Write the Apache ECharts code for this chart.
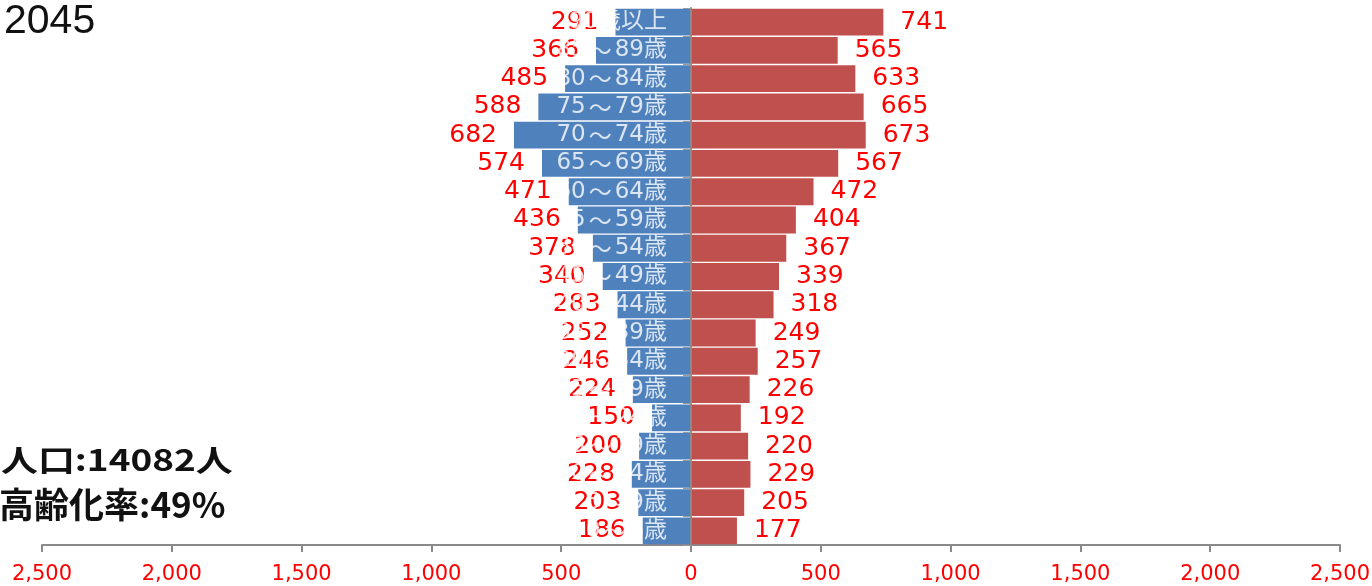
<!DOCTYPE html>
<html>
<head>
<meta charset="utf-8">
<script src="https://cdn.jsdelivr.net/npm/echarts@6/dist/echarts.min.js"></script>
<style>
  html, body { margin: 0; padding: 0; background: #ffffff; }
  #chart { width: 1372px; height: 586px; }
</style>
</head>
<body>
<div id="chart"></div>
<script>
// Age groups, listed from the oldest (top row) to the youngest (bottom row)
const ageGroups = [
  '90歳以上', '85～89歳', '80～84歳', '75～79歳', '70～74歳', '65～69歳',
  '60～64歳', '55～59歳', '50～54歳', '45～49歳', '40～44歳', '35～39歳',
  '30～34歳', '25～29歳', '20～24歳', '15～19歳', '10～14歳', '5～9歳', '0～4歳'
];
// Population by age group (persons)
const male   = [291, 366, 485, 588, 682, 574, 471, 436, 378, 340, 283, 252, 246, 224, 150, 200, 228, 203, 186];
const female = [741, 565, 633, 665, 673, 567, 472, 404, 367, 339, 318, 249, 257, 226, 192, 220, 229, 205, 177];
// Horizontal scale
const axisMax = 2500;
const axisStep = 500;
// Header and summary texts
const yearText = '2045';
const populationText = '人口:14082人';
const agingText = '高齢化率:49%';

const fmt = v => Math.abs(v).toLocaleString('en-US');

const chart = echarts.init(document.getElementById('chart'), null, { renderer: 'canvas' });

chart.setOption({
  animation: false,
  backgroundColor: '#ffffff',
  grid: { left: 42, right: 32, top: 8, bottom: 41, containLabel: false, outerBoundsMode: 'none' },
  xAxis: {
    type: 'value',
    min: -axisMax,
    max: axisMax,
    interval: axisStep,
    position: 'bottom',
    axisLine: { show: true, onZero: false, lineStyle: { color: '#8a8a8a', width: 2 } },
    axisTick: { show: true, length: 7, lineStyle: { color: '#8a8a8a', width: 2 } },
    splitLine: { show: false },
    axisLabel: {
      formatter: fmt,
      color: '#ff0000',
      fontFamily: 'DejaVu Sans',
      fontSize: 21,
      margin: 19
    }
  },
  yAxis: {
    type: 'category',
    data: ageGroups,
    inverse: true,
    z: 10,
    axisLine: { show: true, onZero: true, lineStyle: { color: '#8a8a8a', width: 2 } },
    axisTick: { show: true, length: 8, lineStyle: { color: '#9a9a9a', width: 1 } },
    axisLabel: { show: false }
  },
  series: [
    {
      name: '男',
      type: 'bar',
      stack: 'pop',
      data: male.map(v => -v),
      barCategoryGap: '5%',
      itemStyle: { color: '#4f81bd' },
      label: {
        show: true,
        position: 'left',
        distance: 17,
        formatter: p => fmt(p.value),
        color: '#ff0000',
        fontFamily: 'DejaVu Sans',
        fontSize: 25
      }
    },
    {
      name: '女',
      type: 'bar',
      stack: 'pop',
      data: female,
      barCategoryGap: '5%',
      itemStyle: { color: '#c0504d' },
      label: {
        show: true,
        position: 'right',
        distance: 17,
        formatter: p => fmt(p.value),
        color: '#ff0000',
        fontFamily: 'DejaVu Sans',
        fontSize: 25
      }
    },
    {
      // age-group names, written in white just left of the zero line
      name: '年齢',
      type: 'scatter',
      z: 20,
      symbolSize: 0,
      silent: true,
      data: ageGroups.map(g => [0, g]),
      label: {
        show: true,
        position: 'left',
        distance: 24,
        formatter: p => p.value[1].replace('～', '{t|～}'),
        color: '#ffffff',
        fontFamily: 'DejaVu Sans, Noto Sans CJK JP',
        fontSize: 23,
        rich: {
          t: {
            color: '#ffffff',
            fontFamily: 'Noto Sans CJK JP',
            fontSize: 23,
            padding: [0, 3]
          }
        }
      }
    }
  ],
  graphic: [
    {
      type: 'text',
      x: 4, y: 1,
      style: { text: yearText, fontFamily: 'Liberation Sans', fontSize: 41, fill: '#111111' }
    },
    {
      type: 'text',
      x: 1, y: 445,
      scaleX: 1.055,
      scaleY: 0.85,
      style: { text: populationText, fontFamily: 'Noto Sans CJK JP', fontWeight: 'bold', fontSize: 35, fill: '#111111' }
    },
    {
      type: 'text',
      x: -1, y: 487,
      style: { text: agingText, fontFamily: 'Noto Sans CJK JP', fontWeight: 'bold', fontSize: 35, fill: '#111111' }
    }
  ]
});
</script>
</body>
</html>
